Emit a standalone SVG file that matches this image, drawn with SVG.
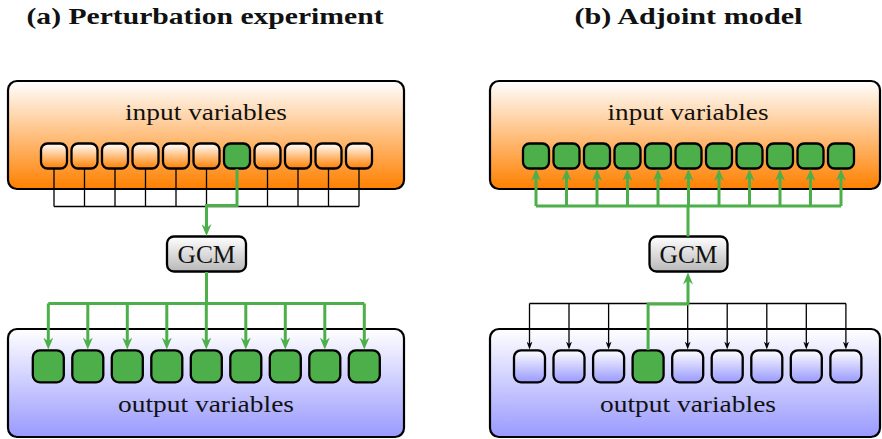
<svg xmlns="http://www.w3.org/2000/svg" width="882" height="439" viewBox="0 0 882 439">
<style>
.big{stroke:#000;stroke-width:2.2}
.sb{stroke:#000;stroke-width:2.3}
.go{fill:url(#gOrange)}
.gb{fill:url(#gBlue)}
.gr{fill:#4daf4a}
.lbl{font-family:"Liberation Serif","Times New Roman",serif;fill:#111}
.ttl{font-family:"Liberation Serif","Times New Roman",serif;font-weight:bold;font-size:23px;fill:#111}
.gline{fill:none;stroke:#4daf4a;stroke-width:3}
.bline{fill:none;stroke:#000;stroke-width:1.3}
</style>
<defs>
<linearGradient id="gOrange" x1="0" y1="0" x2="0" y2="1"><stop offset="0" stop-color="#ffffff"/><stop offset="1" stop-color="#ff8000"/></linearGradient>
<linearGradient id="gBlue" x1="0" y1="0" x2="0" y2="1"><stop offset="0" stop-color="#ffffff"/><stop offset="1" stop-color="#9999ff"/></linearGradient>
<linearGradient id="gGray" x1="0" y1="0" x2="0" y2="1"><stop offset="0" stop-color="#ffffff"/><stop offset="1" stop-color="#b8b8b8"/></linearGradient>
<marker id="ag" viewBox="0 0 12 10" refX="6" refY="5" markerWidth="12" markerHeight="10" orient="auto" markerUnits="userSpaceOnUse"><path d="M0,0 L12,5 L0,10 L4,5 z" fill="#4daf4a"/></marker>
<marker id="ab" viewBox="0 0 8 6" refX="4" refY="3" markerWidth="8" markerHeight="6" orient="auto" markerUnits="userSpaceOnUse"><path d="M0,0 L8,3 L0,6 L2.5,3 z" fill="#000"/></marker>
</defs>

<text class="ttl" x="205" y="23.5" text-anchor="middle" textLength="357" lengthAdjust="spacingAndGlyphs">(a) Perturbation experiment</text>
<text class="ttl" x="688.5" y="23.5" text-anchor="middle" textLength="228" lengthAdjust="spacingAndGlyphs">(b) Adjoint model</text>

<!-- Panel (a) -->
<g id="a-input">
<rect class="big go" x="8" y="81" width="396" height="108" rx="9"/>
<text class="lbl" x="206" y="120" font-size="24" text-anchor="middle" textLength="162" lengthAdjust="spacingAndGlyphs">input variables</text>
<g class="sb">
<rect class="go" x="41" y="143.5" width="26" height="25" rx="6.5"/>
<rect class="go" x="71.5" y="143.5" width="26" height="25" rx="6.5"/>
<rect class="go" x="102" y="143.5" width="26" height="25" rx="6.5"/>
<rect class="go" x="132.5" y="143.5" width="26" height="25" rx="6.5"/>
<rect class="go" x="163" y="143.5" width="26" height="25" rx="6.5"/>
<rect class="go" x="193.5" y="143.5" width="26" height="25" rx="6.5"/>
<rect class="gr" x="224" y="143.5" width="26" height="25" rx="6.5"/>
<rect class="go" x="254.5" y="143.5" width="26" height="25" rx="6.5"/>
<rect class="go" x="285" y="143.5" width="26" height="25" rx="6.5"/>
<rect class="go" x="315.5" y="143.5" width="26" height="25" rx="6.5"/>
<rect class="go" x="346" y="143.5" width="26" height="25" rx="6.5"/>
</g>
</g>

<g id="a-gcm">
<rect class="sb" fill="url(#gGray)" x="167" y="236.5" width="79" height="35" rx="7"/>
<text class="lbl" x="206.5" y="263" font-size="26" text-anchor="middle" textLength="58" lengthAdjust="spacingAndGlyphs">GCM</text>
</g>

<g id="a-output">
<rect class="big gb" x="8" y="329" width="396" height="108" rx="9"/>
<text class="lbl" x="206" y="411.7" font-size="24" text-anchor="middle" textLength="176" lengthAdjust="spacingAndGlyphs">output variables</text>
<g class="sb gr">
<rect x="32.8" y="350.3" width="31" height="32" rx="7"/>
<rect x="72.3" y="350.3" width="31" height="32" rx="7"/>
<rect x="111.8" y="350.3" width="31" height="32" rx="7"/>
<rect x="151.3" y="350.3" width="31" height="32" rx="7"/>
<rect x="190.8" y="350.3" width="31" height="32" rx="7"/>
<rect x="230.3" y="350.3" width="31" height="32" rx="7"/>
<rect x="269.8" y="350.3" width="31" height="32" rx="7"/>
<rect x="309.3" y="350.3" width="31" height="32" rx="7"/>
<rect x="348.8" y="350.3" width="31" height="32" rx="7"/>
</g>
</g>

<g id="a-connectors">
<path class="bline" d="M54,169 V206.5 M84.5,169 V206.5 M115,169 V206.5 M145.5,169 V206.5 M176,169 V206.5 M206.5,169 V206.5 M267.5,169 V206.5 M298,169 V206.5 M328.5,169 V206.5 M359,169 V206.5 M54,206.5 H359"/>
<path class="gline" d="M237,169 V205.5 H206.5 V230" marker-end="url(#ag)"/>
<path class="gline" d="M206.5,272 V303.5 M48.3,303.5 H364.3"/>
<g class="gline" marker-end="url(#ag)">
<path d="M48.3,303.5 V343.5"/>
<path d="M87.8,303.5 V343.5"/>
<path d="M127.3,303.5 V343.5"/>
<path d="M166.8,303.5 V343.5"/>
<path d="M206.3,303.5 V343.5"/>
<path d="M245.8,303.5 V343.5"/>
<path d="M285.3,303.5 V343.5"/>
<path d="M324.8,303.5 V343.5"/>
<path d="M364.3,303.5 V343.5"/>
</g>
</g>

<!-- Panel (b) -->
<g id="b-input">
<rect class="big go" x="490" y="81" width="390" height="108" rx="9"/>
<text class="lbl" x="688" y="120" font-size="24" text-anchor="middle" textLength="161" lengthAdjust="spacingAndGlyphs">input variables</text>
<g class="sb gr">
<rect x="523" y="143.5" width="26" height="25" rx="6.5"/>
<rect x="553.5" y="143.5" width="26" height="25" rx="6.5"/>
<rect x="584" y="143.5" width="26" height="25" rx="6.5"/>
<rect x="614.5" y="143.5" width="26" height="25" rx="6.5"/>
<rect x="645" y="143.5" width="26" height="25" rx="6.5"/>
<rect x="675.5" y="143.5" width="26" height="25" rx="6.5"/>
<rect x="706" y="143.5" width="26" height="25" rx="6.5"/>
<rect x="736.5" y="143.5" width="26" height="25" rx="6.5"/>
<rect x="767" y="143.5" width="26" height="25" rx="6.5"/>
<rect x="797.5" y="143.5" width="26" height="25" rx="6.5"/>
<rect x="828" y="143.5" width="26" height="25" rx="6.5"/>
</g>
</g>

<g id="b-gcm">
<rect class="sb" fill="url(#gGray)" x="649.5" y="236.5" width="78" height="35" rx="7"/>
<text class="lbl" x="688.5" y="263" font-size="26" text-anchor="middle" textLength="58" lengthAdjust="spacingAndGlyphs">GCM</text>
</g>

<g id="b-output">
<rect class="big gb" x="490" y="329" width="390" height="108" rx="9"/>
<text class="lbl" x="688" y="411.7" font-size="24" text-anchor="middle" textLength="176" lengthAdjust="spacingAndGlyphs">output variables</text>
<g class="sb">
<rect class="gb" x="514" y="350.3" width="31" height="32" rx="7"/>
<rect class="gb" x="553.5" y="350.3" width="31" height="32" rx="7"/>
<rect class="gb" x="593.1" y="350.3" width="31" height="32" rx="7"/>
<rect class="gr" x="632.6" y="350.3" width="31" height="32" rx="7"/>
<rect class="gb" x="672.2" y="350.3" width="31" height="32" rx="7"/>
<rect class="gb" x="711.7" y="350.3" width="31" height="32" rx="7"/>
<rect class="gb" x="751.3" y="350.3" width="31" height="32" rx="7"/>
<rect class="gb" x="790.8" y="350.3" width="31" height="32" rx="7"/>
<rect class="gb" x="830.4" y="350.3" width="31" height="32" rx="7"/>
</g>
</g>

<g id="b-connectors">
<path class="bline" d="M529.5,303.5 H846"/>
<g class="bline" marker-end="url(#ab)">
<path d="M529.5,303.5 V345.5"/>
<path d="M569,303.5 V345.5"/>
<path d="M608.6,303.5 V345.5"/>
<path d="M687.7,303.5 V345.5"/>
<path d="M727.2,303.5 V345.5"/>
<path d="M766.8,303.5 V345.5"/>
<path d="M806.3,303.5 V345.5"/>
<path d="M845.9,303.5 V345.5"/>
</g>
<path class="gline" d="M648.1,350 V304 H688 V278.5" marker-end="url(#ag)"/>
<path class="gline" d="M688,236.5 V206 M536,206 H841"/>
<g class="gline" marker-end="url(#ag)">
<path d="M536,206 V175"/>
<path d="M566.5,206 V175"/>
<path d="M597,206 V175"/>
<path d="M627.5,206 V175"/>
<path d="M658,206 V175"/>
<path d="M688.5,206 V175"/>
<path d="M719,206 V175"/>
<path d="M749.5,206 V175"/>
<path d="M780,206 V175"/>
<path d="M810.5,206 V175"/>
<path d="M841,206 V175"/>
</g>
</g>
</svg>
